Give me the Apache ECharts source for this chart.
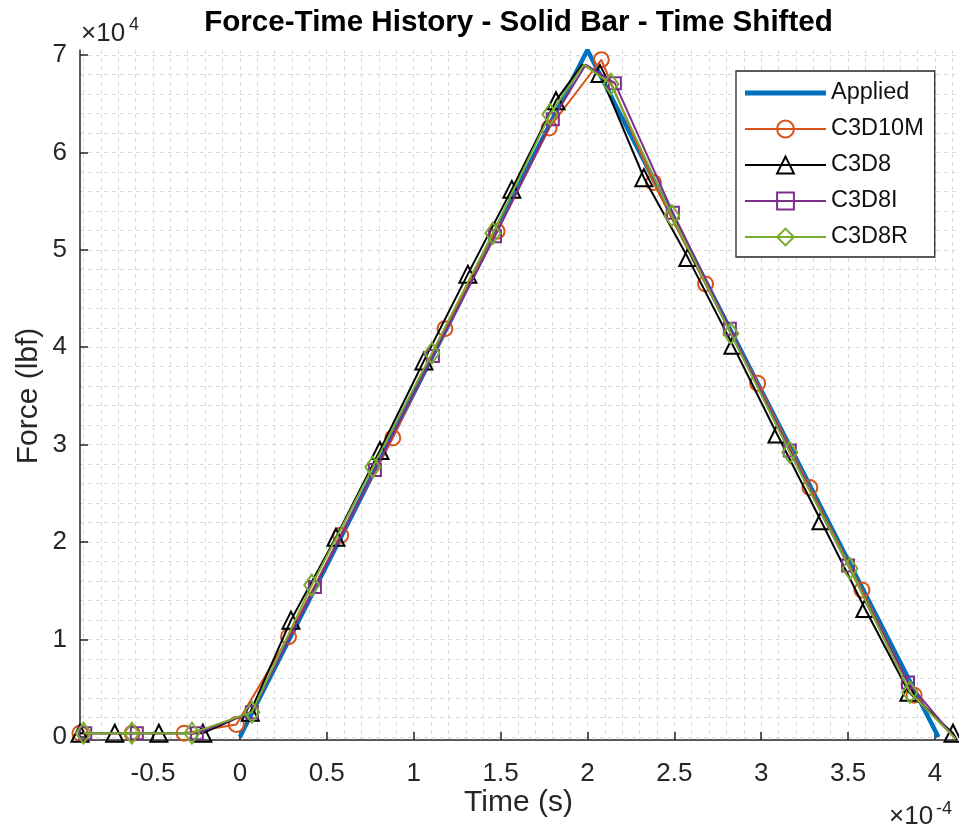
<!DOCTYPE html>
<html><head><meta charset="utf-8">
<script src="https://cdn.jsdelivr.net/npm/echarts@6/dist/echarts.min.js"></script>
<style>html,body{margin:0;padding:0;background:#fff}#c{width:959px;height:832px}</style>
</head><body><div id="c"></div>
<script>
// Time values are in units of 1e-4 s, force in lbf
const X_MIN = -0.92, X_MAX = 4.127;
const Y_MIN = -300, Y_MAX = 70500;
const xTicks = [-0.5, 0, 0.5, 1, 1.5, 2, 2.5, 3, 3.5, 4];
const yTicks = [0, 10000, 20000, 30000, 40000, 50000, 60000, 70000];
const xMinorTicks = [];
for (let k = -9; k <= 41; k++) xMinorTicks.push(k / 10);
const yMinorTicks = [];
for (let k = 0; k <= 35; k++) yMinorTicks.push(k * 2000);

const appliedT = [0, 2.0, 4.02];
const appliedF = [0, 70500, 0];

const c3d10mT = [-0.92, -0.62, -0.32, -0.02, 0.28, 0.58, 0.88, 1.18, 1.48, 1.78, 2.08, 2.38, 2.68, 2.98, 3.28, 3.58, 3.88];
const c3d10mF = [400, 400, 400, 1300, 10300, 20700, 30700, 41900, 51900, 62500, 69500, 56900, 46500, 36300, 25600, 15100, 4300];
const c3d10mLineOnlyT = [4.12];
const c3d10mLineOnlyF = [-200];

const c3d8T = [-0.92, -0.72, -0.466, -0.213, 0.06, 0.294, 0.553, 0.806, 1.059, 1.312, 1.565, 1.819, 2.072, 2.325, 2.578, 2.837, 3.091, 3.344, 3.597, 3.85, 4.104];
const c3d8F = [400, 400, 400, 400, 2560, 12000, 20500, 29400, 38600, 47500, 56200, 65300, 68100, 57400, 49200, 40200, 31100, 22200, 13200, 4600, 400];
const c3d8LineOnlyT = [1.97, 4.127];
const c3d8LineOnlyF = [69000, -300];

const c3d8iT = [-0.89, -0.593, -0.247, 0.069, 0.432, 0.777, 1.111, 1.468, 1.801, 2.158, 2.492, 2.82, 3.165, 3.5, 3.845];
const c3d8iF = [400, 400, 400, 2560, 15400, 27400, 39100, 51400, 63400, 67100, 53800, 41900, 29400, 17600, 5600];
const c3d8iLineOnlyT = [1.99, 4.12];
const c3d8iLineOnlyF = [69000, -200];

const c3d8rT = [-0.9, -0.622, -0.276, 0.069, 0.414, 0.765, 1.105, 1.456, 1.784, 2.135, 2.486, 2.826, 3.165, 3.511, 3.856];
const c3d8rF = [400, 400, 400, 2560, 15600, 27700, 39400, 51700, 63900, 67000, 53500, 41400, 29200, 17300, 4600];
const c3d8rLineOnlyT = [1.98, 4.12];
const c3d8rLineOnlyF = [69000, -200];

const seriesNames = ['Applied', 'C3D10M', 'C3D8', 'C3D8I', 'C3D8R'];
const colors = ['#0072BD', '#D95319', '#000000', '#7E2F8E', '#77AC30'];

function build(tm, fm, tl, fl) {
  const pts = tm.map((t, i) => ({ value: [t, fm[i]] }));
  (tl || []).forEach((t, i) => pts.push({ value: [t, fl[i]], symbol: 'none' }));
  pts.sort((a, b) => a.value[0] - b.value[0]);
  return pts;
}

const FONT = '"Liberation Sans", Arial, Helvetica, sans-serif';
const gridLine = { show: true, lineStyle: { color: '#d9d9d9', width: 1, type: [4, 4] } };
const axisColor = '#262626';

function feSeries(idx, data, symbol, size) {
  return {
    name: seriesNames[idx], type: 'line', data: data,
    symbol: symbol, symbolSize: size, showAllSymbol: true, clip: false,
    lineStyle: { color: colors[idx], width: 2 },
    itemStyle: { color: 'rgba(255,255,255,0)', borderColor: colors[idx], borderWidth: 2 },
    emphasis: { disabled: true }, z: 2 + idx
  };
}

const chart = echarts.init(document.getElementById('c'), null, { renderer: 'canvas' });
chart.setOption({
  animation: false,
  backgroundColor: '#ffffff',
  grid: { left: 80, right: 2, top: 50, bottom: 92, containLabel: false },
  xAxis: [
    { type: 'value', min: X_MIN, max: X_MAX,
      axisLine: { show: true, onZero: false, lineStyle: { color: axisColor, width: 1.5 } },
      axisTick: { show: true, inside: true, length: 8, customValues: xTicks, lineStyle: { color: axisColor, width: 1.5 } },
      axisLabel: { customValues: xTicks, formatter: v => String(+v.toFixed(2)), fontSize: 26, color: axisColor, fontFamily: FONT, margin: 21 },
      splitLine: gridLine },
    { type: 'value', min: X_MIN, max: X_MAX,
      axisLine: { show: false }, axisLabel: { show: false },
      axisTick: { show: false, customValues: xMinorTicks },
      splitLine: gridLine }
  ],
  yAxis: [
    { type: 'value', min: Y_MIN, max: Y_MAX,
      axisLine: { show: true, onZero: false, lineStyle: { color: axisColor, width: 1.5 } },
      axisTick: { show: true, inside: true, length: 8, customValues: yTicks, lineStyle: { color: axisColor, width: 1.5 } },
      axisLabel: { customValues: yTicks, formatter: v => String(Math.round(v / 10000)), fontSize: 26, color: axisColor, fontFamily: FONT, margin: 13 },
      splitLine: gridLine },
    { type: 'value', min: Y_MIN, max: Y_MAX,
      axisLine: { show: false }, axisLabel: { show: false },
      axisTick: { show: false, customValues: yMinorTicks },
      splitLine: gridLine }
  ],
  legend: {
    orient: 'vertical', left: 736, top: 71,
    itemWidth: 81, itemHeight: 21, itemGap: 12,
    padding: [10, 11, 8, 8],
    backgroundColor: '#ffffff', borderColor: axisColor, borderWidth: 1.3, borderRadius: 0,
    textStyle: { fontSize: 23.5, fontFamily: FONT, color: '#111', lineHeight: 21 },
    selectedMode: false,
    data: [
      { name: 'Applied', icon: 'path://M0 0H81V5H0Z' },
      'C3D10M', 'C3D8', 'C3D8I', 'C3D8R'
    ]
  },
  graphic: [
    { type: 'text', x: 518.5, y: 23, style: { text: 'Force-Time History - Solid Bar - Time Shifted', font: 'bold 29.6px ' + FONT, fill: '#000', textAlign: 'center', textVerticalAlign: 'middle' } },
    { type: 'text', x: 518.5, y: 803, style: { text: 'Time (s)', font: '30px ' + FONT, fill: axisColor, textAlign: 'center', textVerticalAlign: 'middle' } },
    { type: 'text', x: 29, y: 396, rotation: Math.PI / 2, style: { text: 'Force (lbf)', font: '30px ' + FONT, fill: axisColor, textAlign: 'center', textVerticalAlign: 'middle' } },
    { type: 'text', x: 81, y: 34, style: { text: '×10', font: '26px ' + FONT, fill: axisColor, textAlign: 'left', textVerticalAlign: 'middle' } },
    { type: 'text', x: 129, y: 25, style: { text: '4', font: '18px ' + FONT, fill: axisColor, textAlign: 'left', textVerticalAlign: 'middle' } },
    { type: 'text', x: 889, y: 817, style: { text: '×10', font: '26px ' + FONT, fill: axisColor, textAlign: 'left', textVerticalAlign: 'middle' } },
    { type: 'text', x: 936, y: 809, style: { text: '-4', font: '18px ' + FONT, fill: axisColor, textAlign: 'left', textVerticalAlign: 'middle' } }
  ],
  series: [
    { name: seriesNames[0], type: 'line', data: build(appliedT, appliedF), symbol: 'none', clip: false,
      lineStyle: { color: colors[0], width: 4.5 }, itemStyle: { color: colors[0] }, emphasis: { disabled: true }, z: 2 },
    feSeries(1, build(c3d10mT, c3d10mF, c3d10mLineOnlyT, c3d10mLineOnlyF), 'circle', 15),
    feSeries(2, build(c3d8T, c3d8F, c3d8LineOnlyT, c3d8LineOnlyF), 'triangle', 17),
    feSeries(3, build(c3d8iT, c3d8iF, c3d8iLineOnlyT, c3d8iLineOnlyF), 'rect', 12),
    feSeries(4, build(c3d8rT, c3d8rF, c3d8rLineOnlyT, c3d8rLineOnlyF), 'diamond', [15, 21])
  ]
});
</script></body></html>
